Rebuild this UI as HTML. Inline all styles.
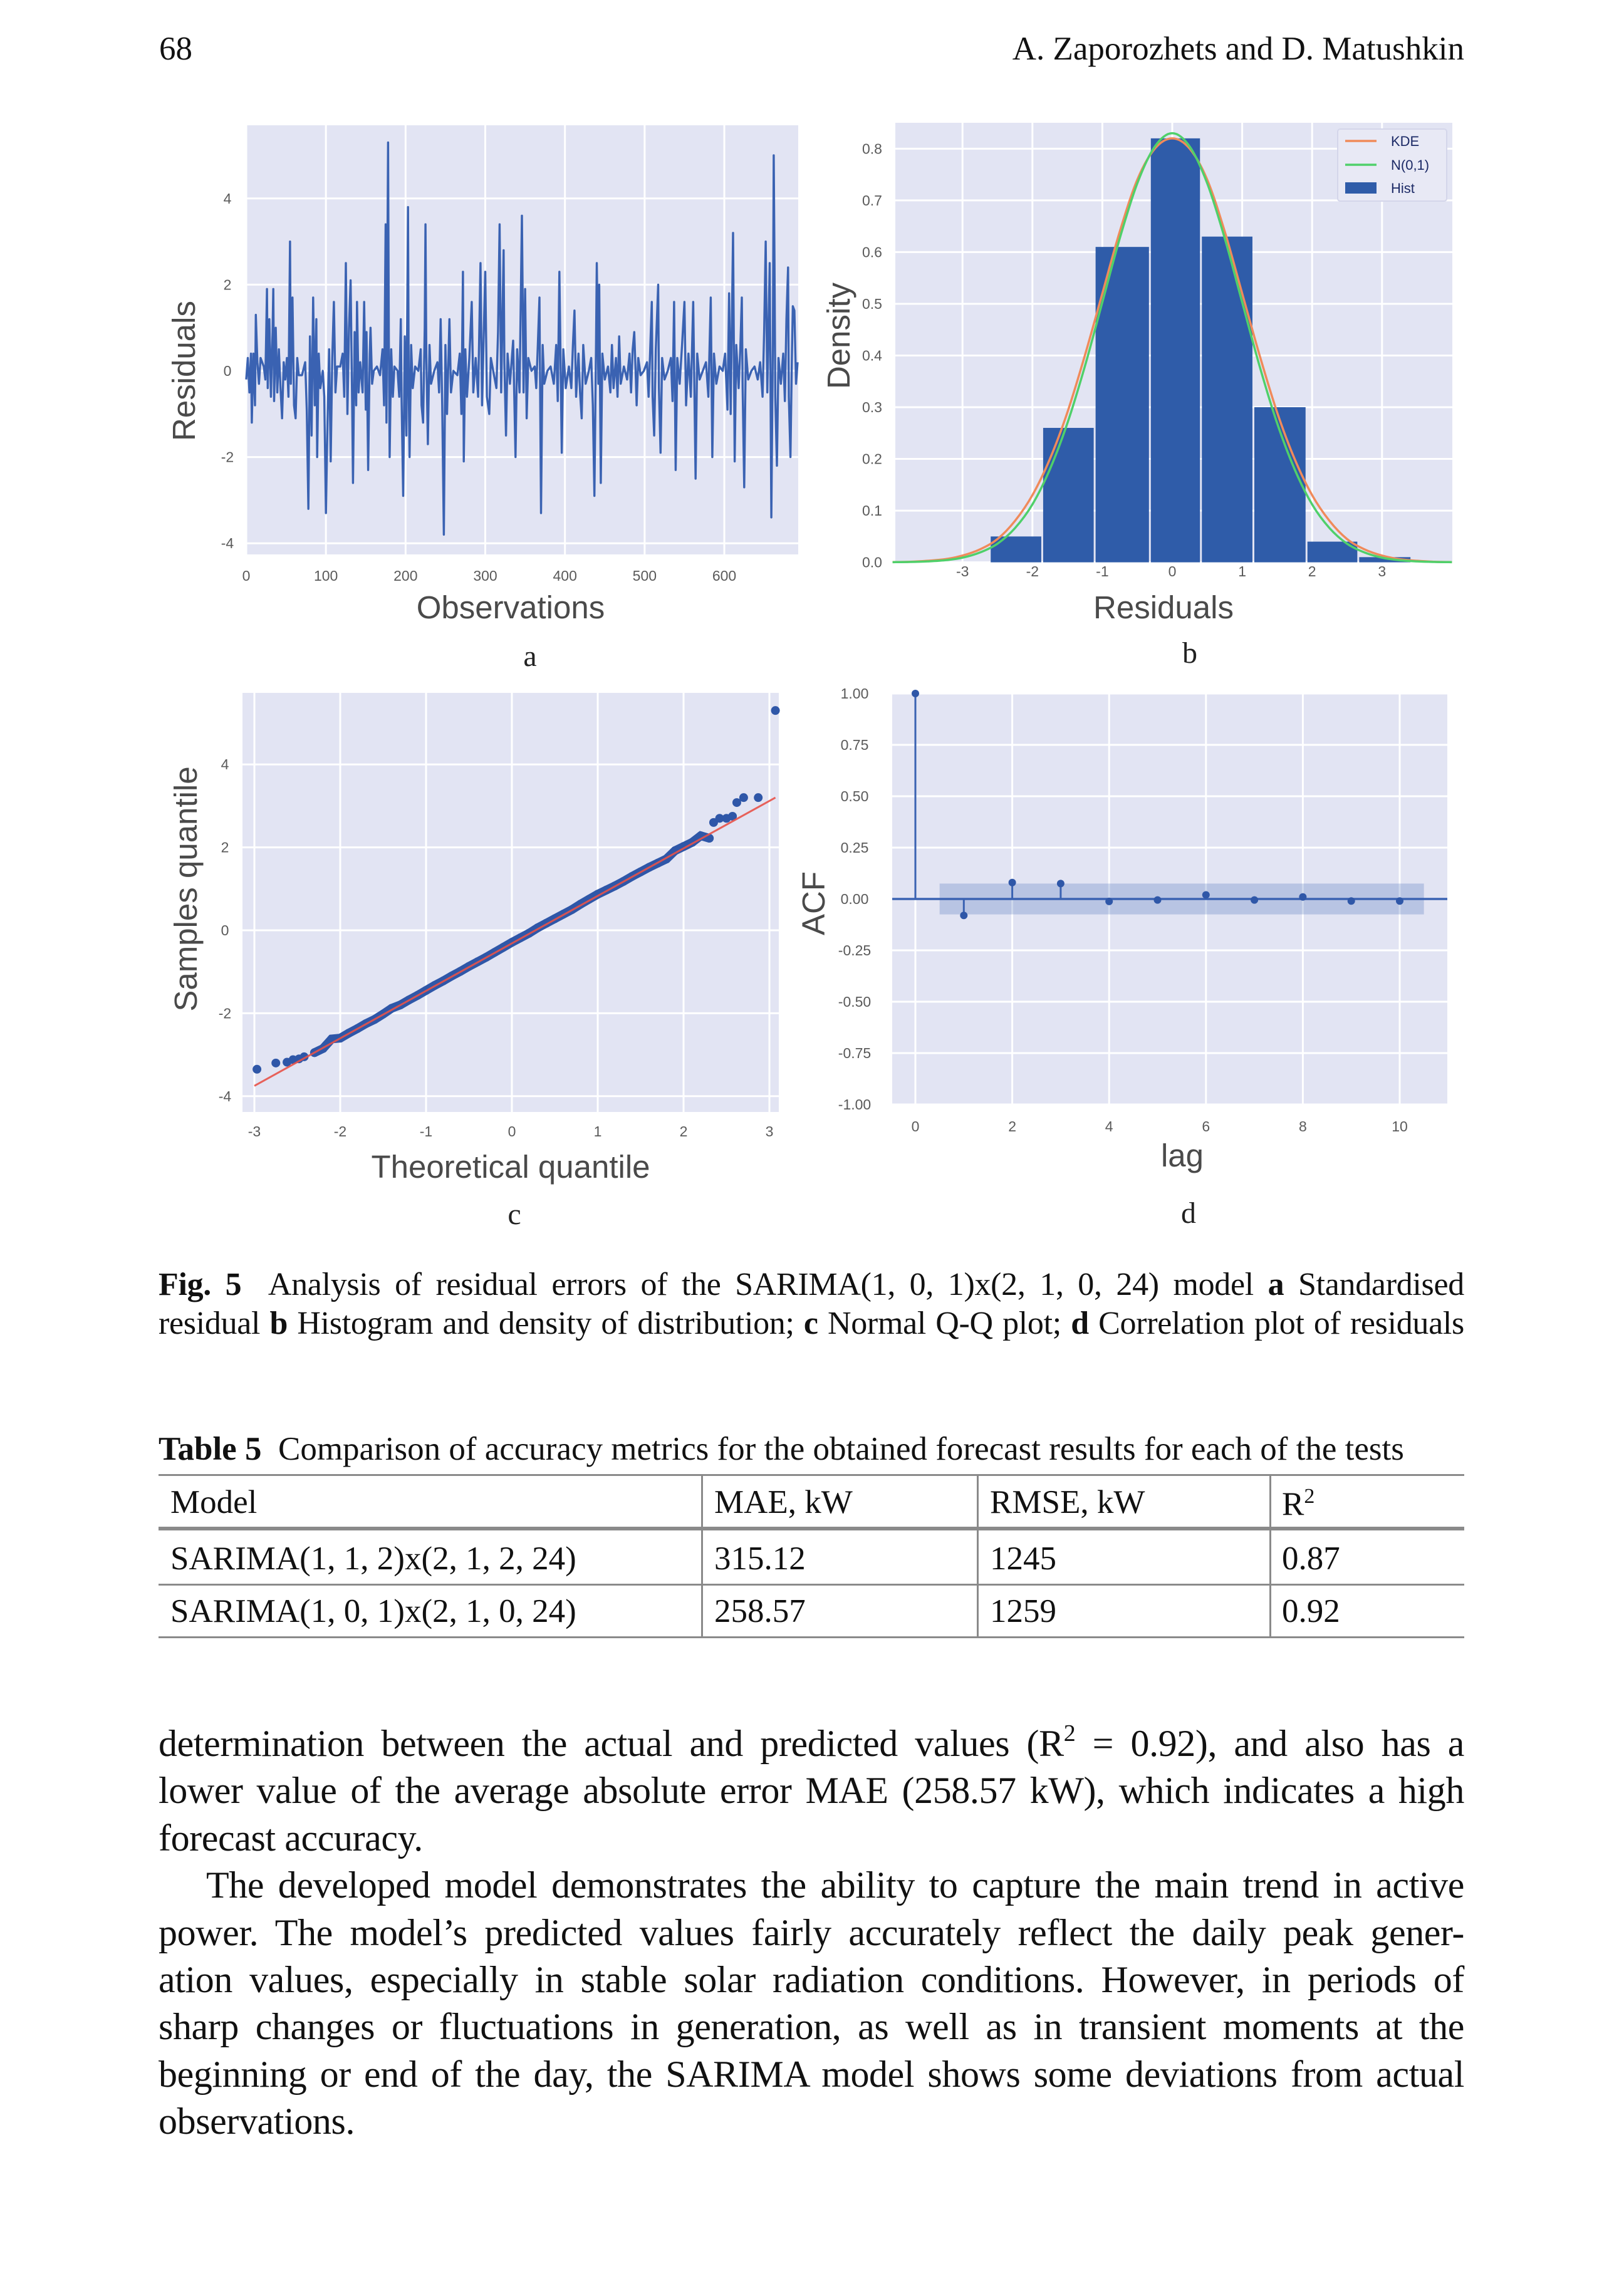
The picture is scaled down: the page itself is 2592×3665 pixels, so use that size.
<!DOCTYPE html>
<html><head><meta charset="utf-8">
<style>
html,body{margin:0;padding:0;background:#fff;}
body{width:2592px;height:3665px;position:relative;overflow:hidden;font-family:"Liberation Serif",serif;color:#111;}
.t{position:absolute;white-space:nowrap;line-height:1;}
.j{position:absolute;left:253px;width:2084px;text-align:justify;text-align-last:justify;line-height:1;white-space:normal;}
.cap{font-size:52px;letter-spacing:-0.3px;}
.tb{font-size:53px;}
.body{font-size:60px;letter-spacing:-0.4px;}
svg{position:absolute;left:0;top:0;}
.tbl-line{position:absolute;background:#8a8a8a;}
</style></head>
<body>
<div class="t" style="left:254px;top:52px;font-size:53px;">68</div>
<div class="t" style="right:255px;top:52px;font-size:53px;">A. Zaporozhets and D. Matushkin</div>

<svg id="charts" width="2592" height="3665"></svg>

<div class="j cap" style="top:2025px;"><b>Fig. 5</b>&nbsp; Analysis of residual errors of the SARIMA(1, 0, 1)x(2, 1, 0, 24) model <b>a</b> Standardised</div>
<div class="j cap" style="top:2087px;">residual <b>b</b> Histogram and density of distribution; <b>c</b> Normal Q-Q plot; <b>d</b> Correlation plot of residuals</div>

<div class="t tb" style="left:253px;top:2287px;"><b>Table 5</b>&nbsp; Comparison of accuracy metrics for the obtained forecast results for each of the tests</div>

<div>
<div class="tbl-line" style="left:253px;width:2084px;top:2353px;height:3px;"></div>
<div class="tbl-line" style="left:253px;width:2084px;top:2437px;height:6px;"></div>
<div class="tbl-line" style="left:253px;width:2084px;top:2528px;height:3px;"></div>
<div class="tbl-line" style="left:253px;width:2084px;top:2612px;height:3px;"></div>
<div class="tbl-line" style="left:1119px;width:3px;top:2353px;height:262px;"></div>
<div class="tbl-line" style="left:1559px;width:3px;top:2353px;height:262px;"></div>
<div class="tbl-line" style="left:2026px;width:3px;top:2353px;height:262px;"></div>
<div class="t tb" style="left:272px;top:2372px;">Model</div>
<div class="t tb" style="left:1140px;top:2372px;">MAE, kW</div>
<div class="t tb" style="left:1580px;top:2372px;">RMSE, kW</div>
<div class="t tb" style="left:2046px;top:2372px;">R<sup style="font-size:34px;vertical-align:19px;">2</sup></div>
<div class="t tb" style="left:272px;top:2462px;">SARIMA(1, 1, 2)x(2, 1, 2, 24)</div>
<div class="t tb" style="left:1140px;top:2462px;">315.12</div>
<div class="t tb" style="left:1580px;top:2462px;">1245</div>
<div class="t tb" style="left:2046px;top:2462px;">0.87</div>
<div class="t tb" style="left:272px;top:2546px;">SARIMA(1, 0, 1)x(2, 1, 0, 24)</div>
<div class="t tb" style="left:1140px;top:2546px;">258.57</div>
<div class="t tb" style="left:1580px;top:2546px;">1259</div>
<div class="t tb" style="left:2046px;top:2546px;">0.92</div>
</div>

<div>
<div class="j body" style="top:2753px;">determination between the actual and predicted values (R<sup style="font-size:38px;vertical-align:24px;line-height:0;">2</sup> = 0.92), and also has a</div>
<div class="j body" style="top:2828px;">lower value of the average absolute error MAE (258.57 kW), which indicates a high</div>
<div class="t body" style="left:253px;top:2904px;">forecast accuracy.</div>
<div class="j body" style="top:2979px;left:329px;width:2008px;">The developed model demonstrates the ability to capture the main trend in active</div>
<div class="j body" style="top:3055px;">power. The model’s predicted values fairly accurately reflect the daily peak gener-</div>
<div class="j body" style="top:3130px;">ation values, especially in stable solar radiation conditions. However, in periods of</div>
<div class="j body" style="top:3205px;">sharp changes or fluctuations in generation, as well as in transient moments at the</div>
<div class="j body" style="top:3281px;">beginning or end of the day, the SARIMA model shows some deviations from actual</div>
<div class="t body" style="left:253px;top:3356px;">observations.</div>
</div>

<script>
// ---- Panel a: residual series ----
const obsIdx = [0,2,4,6,7,9,11,12,14,16,18,20,22,24,25,26,27,29,31,33,34,35,37,39,41,43,45,47,49,51,53,55,56,58,60,62,64,66,70,74,76,78,80,82,84,86,88,89,91,93,96,98,100,102,104,106,108,110,112,114,118,121,123,125,127,129,131,133,134,136,138,139,141,143,146,148,150,151,153,155,156,158,160,164,168,171,173,175,176,178,179,180,182,184,186,190,192,194,195,197,199,201,203,204,205,207,209,212,216,219,220,222,224,225,226,228,230,232,236,240,242,244,246,248,250,252,255,257,260,265,268,270,272,273,275,277,280,283,285,288,291,294,296,298,300,302,305,307,310,314,316,318,320,323,324,326,328,331,335,338,340,343,346,348,350,352,354,358,362,364,366,368,370,372,374,378,382,386,389,391,393,394,396,398,401,405,408,410,412,414,417,419,421,423,426,430,433,435,437,439,440,442,443,445,447,450,454,457,459,461,464,466,468,470,474,478,481,483,485,487,489,490,492,495,499,503,505,507,509,510,512,514,517,518,520,522,525,529,533,535,537,539,541,544,547,550,552,555,558,561,562,564,566,569,573,577,580,583,585,587,590,594,598,601,604,606,608,611,613,615,618,620,622,623,625,627,630,634,638,642,645,648,650,652,654,657,659,661,662,663,664,666,668,671,674,676,678,680,681,683,685,686,688,690,692];
const residVals = [-0.2,0.3,-0.5,0.4,-1.2,0.4,-0.8,1.3,0.2,-0.3,0.3,0.2,0.1,-0.2,0.8,1.9,-0.4,1.2,-0.6,0.9,1.9,-0.7,1.0,-0.5,0.5,-0.4,-1.1,0.2,-0.2,0.3,-0.6,3.0,-0.3,1.7,-0.8,-1.1,0.3,-0.1,-0.1,0.2,-0.9,-3.2,0.8,-1.5,1.7,-0.8,1.2,-2.0,0.4,-0.4,0.0,-0.6,-3.3,-1.2,0.5,-2.1,0.3,1.6,-0.5,0.1,0.1,0.4,-0.6,2.5,-1.0,1.0,2.1,-0.8,-2.6,0.9,-0.8,1.6,-0.5,0.2,-0.5,1.6,-0.9,0.9,-2.3,0.4,1.0,-0.3,0.0,0.1,-0.1,0.5,-0.8,3.4,-1.2,5.3,0.7,-2.0,0.5,-0.6,0.1,0.0,-0.6,1.2,-0.7,-2.9,0.8,-1.5,3.8,-0.5,-2.0,0.6,-0.4,0.1,0.0,0.5,-0.8,-1.2,1.0,3.4,0.4,-1.7,0.6,-0.3,0.0,0.2,-0.5,1.2,-0.8,-3.8,0.6,-1.0,1.2,-0.5,0.0,-0.1,0.4,-1.0,2.3,-2.1,0.5,-0.6,0.3,1.6,-0.5,0.3,-0.6,2.5,-0.8,0.8,2.3,-0.6,-1.0,0.3,0.0,-0.4,0.9,3.4,-0.5,2.8,0.2,-1.5,0.4,-0.3,0.7,-2.0,0.5,-0.5,3.6,-0.5,1.9,-1.1,0.3,0.0,0.1,-0.4,0.6,1.7,-3.3,0.6,-0.3,0.0,0.1,-0.3,0.6,-0.7,2.3,1.0,-1.9,0.5,-0.4,0.1,-0.4,0.6,1.4,-0.6,0.4,-0.5,-1.1,0.6,-0.3,0.0,0.3,-0.8,-2.9,0.6,2.5,-0.3,2.0,-2.6,0.4,-0.2,0.1,-0.5,0.6,-0.4,0.3,-0.6,0.8,-0.3,0.1,-0.2,0.4,-0.5,0.5,0.9,-0.2,-0.8,0.3,-0.1,0.0,0.2,-0.6,0.5,1.6,-0.6,-1.5,0.5,2.0,-0.4,-1.9,0.3,-0.2,0.0,0.3,-0.7,1.6,-2.3,0.3,-0.3,0.6,1.6,-0.8,0.4,-0.6,1.6,0.2,-2.5,0.4,-0.2,0.0,0.2,-0.6,1.7,-2.0,0.4,-0.3,0.1,0.0,0.4,-0.9,1.8,-1.0,3.2,-2.1,0.6,-0.4,0.5,1.7,-0.4,-2.7,0.5,-0.2,0.0,0.1,-0.2,0.2,-0.6,0.9,3.0,-0.5,2.5,-3.4,0.8,5.0,2.6,-0.6,-2.2,0.3,-0.3,0.4,-0.7,1.2,2.4,-0.6,-2.0,0.5,1.5,1.4,-0.3,0.2];
const aXTicks = [0,100,200,300,400,500,600];
const aYTicks = [-4,-2,0,2,4];

// ---- Panel b: histogram + densities ----
const binEdges = [-2.61,-1.86,-1.11,-0.32,0.41,1.16,1.92,2.66,3.42];
const binDensity = [0.05,0.26,0.61,0.82,0.63,0.30,0.04,0.01];
const curveX = [-4,-3.75,-3.5,-3.25,-3,-2.75,-2.5,-2.25,-2,-1.75,-1.5,-1.25,-1,-0.75,-0.5,-0.25,0,0.25,0.5,0.75,1,1.25,1.5,1.75,2,2.25,2.5,2.75,3,3.25,3.5,3.75,4];
const kdeY = [0.0005,0.001,0.003,0.006,0.013,0.025,0.045,0.08,0.13,0.2,0.29,0.4,0.52,0.64,0.74,0.8,0.82,0.8,0.74,0.64,0.52,0.4,0.29,0.2,0.13,0.08,0.045,0.025,0.013,0.006,0.003,0.001,0.0005];
const normY = [0.0003,0.0007,0.0018,0.004,0.009,0.019,0.036,0.066,0.112,0.18,0.269,0.379,0.503,0.627,0.733,0.804,0.83,0.804,0.733,0.627,0.503,0.379,0.269,0.18,0.112,0.066,0.036,0.019,0.009,0.004,0.0018,0.0007,0.0003];
const bXTicks = [-3,-2,-1,0,1,2,3];
const bYTicks = [0,0.1,0.2,0.3,0.4,0.5,0.6,0.7,0.8];
const bYLabels = ["0.0","0.1","0.2","0.3","0.4","0.5","0.6","0.7","0.8"];

// ---- Panel c: Q-Q ----
const qqTheo = [-2.97,-2.75,-2.62,-2.55,-2.48,-2.42,-2.3,-2.2,-2.1,-2.0,-1.9,-1.8,-1.7,-1.6,-1.5,-1.4,-1.3,-1.2,-1.1,-1.0,-0.9,-0.8,-0.7,-0.6,-0.5,-0.4,-0.3,-0.2,-0.1,0,0.1,0.2,0.3,0.4,0.5,0.6,0.7,0.8,0.9,1.0,1.1,1.2,1.3,1.4,1.5,1.6,1.7,1.8,1.9,2.0,2.1,2.2,2.3,2.35,2.42,2.5,2.57,2.62,2.7,2.87,3.07];
const qqSample = [-3.35,-3.2,-3.18,-3.12,-3.1,-3.05,-2.95,-2.85,-2.62,-2.6,-2.48,-2.37,-2.25,-2.15,-2.02,-1.88,-1.8,-1.68,-1.57,-1.45,-1.33,-1.22,-1.1,-0.99,-0.87,-0.76,-0.65,-0.53,-0.41,-0.29,-0.18,-0.07,0.06,0.17,0.28,0.39,0.5,0.63,0.75,0.87,0.97,1.07,1.18,1.3,1.41,1.52,1.62,1.72,1.92,2.02,2.12,2.28,2.22,2.6,2.7,2.7,2.75,3.08,3.2,3.2,5.3];
const qqLineX = [-3,3.07];
const qqLineY = [-3.75,3.2];
const cXTicks = [-3,-2,-1,0,1,2,3];
const cYTicks = [-4,-2,0,2,4];

// ---- Panel d: ACF ----
const lags = [0,1,2,3,4,5,6,7,8,9,10];
const acfVals = [1.0,-0.08,0.08,0.075,-0.012,-0.005,0.02,-0.005,0.01,-0.01,-0.01];
const confBand = [0.075];
const dXTicks = [0,2,4,6,8,10];
const dYTicks = [-1,-0.75,-0.5,-0.25,0,0.25,0.5,0.75,1];
const dYLabels = ["-1.00","-0.75","-0.50","-0.25","0.00","0.25","0.50","0.75","1.00"];

const NS='http://www.w3.org/2000/svg';
const svg=document.getElementById('charts');
function mk(tag,attrs,parent){const e=document.createElementNS(NS,tag);for(const k in attrs)e.setAttribute(k,attrs[k]);(parent||svg).appendChild(e);return e;}
function txt(str,attrs,parent){const e=mk('text',attrs,parent);e.textContent=str;return e;}
const BG='#e2e4f3', BLUE='#3a62b2', TICKC='#5a5a5a';
const tickFont='font-family:"Liberation Sans",sans-serif;font-size:23px;fill:'+TICKC;
const titleFont='font-family:"Liberation Sans",sans-serif;font-size:51px;fill:#4a4a4a';
const letterFont='font-family:"Liberation Serif",serif;font-size:48px;fill:#222';

function panel(name,L,R,T,B){
  const g=mk('g',{});
  
  
  const bg=mk('rect',{x:L,y:T,width:R-L,height:B-T,fill:BG},g);
  
  
  return g;
}
function gridV(g,xs,T,B){xs.forEach(x=>{const l=mk('line',{x1:x,x2:x,y1:T,y2:B,stroke:'#fff','stroke-width':3},g);
  
  });}
function gridH(g,ys,L,R){ys.forEach(y=>{const l=mk('line',{x1:L,x2:R,y1:y,y2:y,stroke:'#fff','stroke-width':3},g);
  
  });}
function smooth(pts){let d='M'+pts[0][0]+','+pts[0][1];for(let i=0;i<pts.length-1;i++){const p0=pts[i-1]||pts[i],p1=pts[i],p2=pts[i+1],p3=pts[i+2]||p2;
  const c1x=p1[0]+(p2[0]-p0[0])/6,c1y=p1[1]+(p2[1]-p0[1])/6,c2x=p2[0]-(p3[0]-p1[0])/6,c2y=p2[1]-(p3[1]-p1[1])/6;
  d+=` C${c1x},${c1y} ${c2x},${c2y} ${p2[0]},${p2[1]}`;}return d;}

// ===== Panel a =====
(function(){
  const L=393,R=1274,T=200,B=885;
  const xA=o=>393+o*1.2717, yA=v=>592-v*68.8;
  const g=panel('residuals-plot',L,R,T,B);
  gridV(g,aXTicks.map(xA),T,B); gridH(g,aYTicks.map(yA),L,R);
  const n=Math.min(obsIdx.length,residVals.length);
  let d='';for(let i=0;i<n;i++)d+=(i?'L':'M')+xA(obsIdx[i]).toFixed(1)+','+yA(residVals[i]).toFixed(1);
  const p=mk('path',{d:d,fill:'none',stroke:BLUE,'stroke-width':3.4,'stroke-linejoin':'round'},g);
  
  
  aXTicks.forEach(t=>{const e=txt(String(t),{x:xA(t),y:927,'text-anchor':'middle',style:tickFont},g);
    
    });
  aYTicks.forEach(t=>{const e=txt(String(t),{x:363,y:yA(t)+8,'text-anchor':'middle',style:tickFont},g);
    
    });
  const xt=txt('Observations',{x:815,y:987,'text-anchor':'middle',style:titleFont},g);
  
  
  const yt=txt('Residuals',{x:0,y:0,'text-anchor':'middle',transform:'translate(311,592) rotate(-90)',style:titleFont},g);
  
  
  const lt=txt('a',{x:846,y:1063,'text-anchor':'middle',style:letterFont},g);
  
  
})();

// ===== Panel b =====
(function(){
  const L=1429,R=2318,T=196,B=898;
  const xB=v=>1871+v*111.6, yB=d=>897.6-d*825.3;
  const g=panel('histogram-plot',L,R,T,B);
  gridV(g,bXTicks.map(xB),T,B); gridH(g,bYTicks.map(yB),L,R);
  binDensity.forEach((h,i)=>{const x0=xB(binEdges[i]),x1=xB(binEdges[i+1]);
    const r=mk('rect',{x:x0+1.5,y:yB(h),width:x1-x0-3,height:yB(0)-yB(h),fill:'#2f5ca9'},g);
    
    });
  const k=mk('path',{d:smooth(curveX.map((x,i)=>[xB(x),yB(kdeY[i])])),fill:'none',stroke:'#f08a5a','stroke-width':3.5},g);
  
  
  const nn=mk('path',{d:smooth(curveX.map((x,i)=>[xB(x),yB(normY[i])])),fill:'none',stroke:'#4fd06a','stroke-width':3.5},g);
  
  
  bXTicks.forEach(t=>{const e=txt(String(t),{x:xB(t),y:920,'text-anchor':'middle',style:tickFont},g);
    
    });
  bYTicks.forEach((t,i)=>{const e=txt(bYLabels[i],{x:1392,y:yB(t)+8,'text-anchor':'middle',style:tickFont},g);
    
    });
  const xt=txt('Residuals',{x:1857,y:987,'text-anchor':'middle',style:titleFont},g);
  
  
  const yt=txt('Density',{x:0,y:0,'text-anchor':'middle',transform:'translate(1356,536) rotate(-90)',style:titleFont},g);
  
  
  const lg=mk('g',{},g);
  
  
  mk('rect',{x:2135,y:206,width:174,height:115,fill:'#e8e9f5',stroke:'#d4d6ea','stroke-width':2,rx:4},lg);
  const items=[['KDE','#f08a5a',225,'line'],['N(0,1)','#4fd06a',263,'line'],['Hist','#2f5ca9',300,'box']];
  items.forEach(it=>{
    let m;
    if(it[3]==='line')m=mk('line',{x1:2147,x2:2197,y1:it[2],y2:it[2],stroke:it[1],'stroke-width':3.5},lg);
    else m=mk('rect',{x:2147,y:it[2]-9,width:50,height:18,fill:it[1]},lg);
    
    
    const e=txt(it[0],{x:2220,y:it[2]+8,style:'font-family:"Liberation Sans",sans-serif;font-size:22px;fill:#1c2a66'},lg);
    
    
  });
  const lt=txt('b',{x:1899,y:1058,'text-anchor':'middle',style:letterFont},g);
  
  
})();

// ===== Panel c =====
(function(){
  const L=387,R=1243,T=1106,B=1775;
  const xC=q=>817+q*137, yC=s=>1485-s*66.2;
  const g=panel('qq-plot',L,R,T,B);
  gridV(g,cXTicks.map(xC),T,B); gridH(g,cYTicks.map(yC),L,R);
  let d='';qqTheo.forEach((q,i)=>{if(i>=6&&i<=52)d+=(d?'L':'M')+xC(q)+','+yC(qqSample[i]);});
  const band=mk('path',{d:d,fill:'none',stroke:'#2f57a8','stroke-width':14,'stroke-linecap':'round'},g);
  
  
  qqTheo.forEach((q,i)=>{const c=mk('circle',{cx:xC(q),cy:yC(qqSample[i]),r:7,fill:'#2f57a8'},g);
    
    });
  const ln=mk('line',{x1:xC(qqLineX[0]),y1:yC(qqLineY[0]),x2:xC(qqLineX[1]),y2:yC(qqLineY[1]),stroke:'#e8534a','stroke-width':3,opacity:0.9},g);
  
  
  cXTicks.forEach(t=>{const e=txt(String(t),{x:xC(t),y:1814,'text-anchor':'middle',style:tickFont},g);
    
    });
  cYTicks.forEach(t=>{const e=txt(String(t),{x:359,y:yC(t)+8,'text-anchor':'middle',style:tickFont},g);
    
    });
  const xt=txt('Theoretical quantile',{x:815,y:1880,'text-anchor':'middle',style:titleFont},g);
  
  
  const yt=txt('Samples quantile',{x:0,y:0,'text-anchor':'middle',transform:'translate(314,1419) rotate(-90)',style:titleFont},g);
  
  
  const lt=txt('c',{x:821,y:1954,'text-anchor':'middle',style:letterFont},g);
  
  
})();

// ===== Panel d =====
(function(){
  const L=1424,R=2310,T=1108,B=1763;
  const xD=l=>1461+l*77.3, yD=a=>1435-a*328;
  const g=panel('acf-plot',L,R,T,B);
  gridV(g,dXTicks.map(xD),T,B); gridH(g,dYTicks.map(yD),L,R);
  const cb=mk('rect',{x:xD(0.5),y:yD(confBand[0]),width:xD(10.5)-xD(0.5),height:yD(-confBand[0])-yD(confBand[0]),fill:'#3a62b2','fill-opacity':0.25},g);
  
  
  const z=mk('line',{x1:L,x2:R,y1:yD(0),y2:yD(0),stroke:BLUE,'stroke-width':3.5},g);
  
  
  lags.forEach((l,i)=>{
    const s=mk('line',{x1:xD(l),x2:xD(l),y1:yD(0),y2:yD(acfVals[i]),stroke:BLUE,'stroke-width':3},g);
    
    
    const c=mk('circle',{cx:xD(l),cy:yD(acfVals[i]),r:6,fill:'#2f57a8'},g);
    
    
  });
  dXTicks.forEach(t=>{const e=txt(String(t),{x:xD(t),y:1806,'text-anchor':'middle',style:tickFont},g);
    
    });
  dYTicks.forEach((t,i)=>{const e=txt(dYLabels[i],{x:1364,y:yD(t)+8,'text-anchor':'middle',style:tickFont},g);
    
    });
  const xt=txt('lag',{x:1887,y:1862,'text-anchor':'middle',style:titleFont},g);
  
  
  const yt=txt('ACF',{x:0,y:0,'text-anchor':'middle',transform:'translate(1316,1442) rotate(-90)',style:titleFont},g);
  
  
  const lt=txt('d',{x:1897,y:1952,'text-anchor':'middle',style:letterFont},g);
  
  
})();
</script>
</body></html>
